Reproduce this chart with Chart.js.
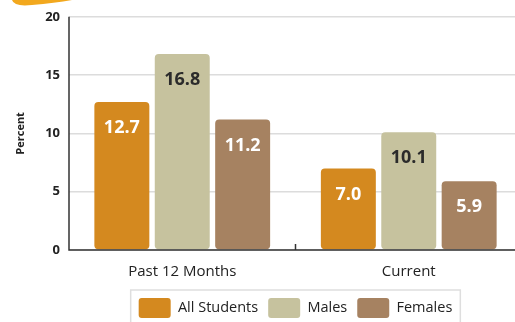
<!DOCTYPE html>
<html>
<head>
<meta charset="utf-8">
<script src="https://cdn.jsdelivr.net/npm/chart.js@4.4.1/dist/chart.umd.min.js"></script>
<style>
  html, body { margin: 0; padding: 0; background: #fff; overflow: hidden; }
  #wrap { width: 530px; height: 322px; position: relative; }
</style>
</head>
<body>
<div id="wrap"><canvas id="chart"></canvas></div>
<script>
// categories and series
const periods = ['Past 12 Months', 'Current'];
const seriesNames = ['All Students', 'Males', 'Females'];
const allStudents = [12.7, 7.0];
const males = [16.8, 10.1];
const females = [11.2, 5.9];
const yTicks = [0, 5, 10, 15, 20];

const COLORS = {
  all: '#D4891F',
  males: '#C6C29E',
  females: '#A68261',
  axis: '#333333',
  grid: '#dcdcdc',
};
const LABEL_COLORS = ['#ffffff', '#2b2b2b', '#ffffff'];
const FONT = '"Open Sans", Lato, sans-serif';

// value labels near the top of each bar
const barValues = {
  id: 'barValues',
  afterDatasetsDraw(chart) {
    const ctx = chart.ctx;
    ctx.save();
    ctx.font = 'bold 18px ' + FONT;
    ctx.textAlign = 'center';
    ctx.textBaseline = 'middle';
    chart.data.datasets.forEach((ds, i) => {
      const meta = chart.getDatasetMeta(i);
      meta.data.forEach((bar, j) => {
        ctx.fillStyle = LABEL_COLORS[i];
        ctx.fillText(ds.data[j].toFixed(1), bar.x, bar.y + 26);
      });
    });
    ctx.restore();
  }
};

// axis lines, separator tick, legend frame, corner swoosh
const frame = {
  id: 'frame',
  afterDraw(chart) {
    const ctx = chart.ctx;
    const a = chart.chartArea;
    const x = chart.scales.x;
    ctx.save();
    ctx.strokeStyle = COLORS.axis;
    ctx.lineWidth = 1.5;
    ctx.beginPath();
    ctx.moveTo(a.left, a.top);
    ctx.lineTo(a.left, a.bottom);
    ctx.lineTo(a.right, a.bottom);
    ctx.stroke();
    const mid = (x.getPixelForValue(0) + x.getPixelForValue(1)) / 2;
    ctx.beginPath();
    ctx.moveTo(mid, a.bottom);
    ctx.lineTo(mid, a.bottom - 6);
    ctx.stroke();

    const boxes = chart.legend.legendHitBoxes;
    if (boxes && boxes.length) {
      const l = Math.min(...boxes.map(b => b.left)) - 8;
      const r = Math.max(...boxes.map(b => b.left + b.width)) + 8;
      const t = Math.min(...boxes.map(b => b.top)) - 8;
      ctx.strokeStyle = '#dedede';
      ctx.lineWidth = 1.5;
      ctx.strokeRect(l, t, r - l, 60);
    }

    ctx.fillStyle = '#F2A81E';
    ctx.beginPath();
    ctx.moveTo(12, 0);
    ctx.quadraticCurveTo(14, 7, 32, 5);
    ctx.quadraticCurveTo(55, 3, 72, 0);
    ctx.closePath();
    ctx.fill();
    ctx.restore();
  }
};

new Chart(document.getElementById('chart'), {
  type: 'bar',
  data: {
    labels: periods,
    datasets: [
      { label: seriesNames[0], data: allStudents, backgroundColor: COLORS.all },
      { label: seriesNames[1], data: males, backgroundColor: COLORS.males },
      { label: seriesNames[2], data: females, backgroundColor: COLORS.females },
    ].map(d => Object.assign(d, {
      borderRadius: 4,
      borderSkipped: false,
      categoryPercentage: 0.80,
      barPercentage: 0.91,
    }))
  },
  options: {
    responsive: true,
    maintainAspectRatio: false,
    animation: false,
    layout: { padding: { top: 8, left: 0, right: 8, bottom: -6 } },
    plugins: {
      legend: {
        position: 'bottom',
        fullSize: false,
        labels: {
          boxWidth: 32,
          boxHeight: 20,
          useBorderRadius: true,
          borderRadius: 3,
          padding: 10,
          color: '#222',
          font: { family: FONT, size: 14.5 },
        }
      },
      tooltip: { enabled: false }
    },
    scales: {
      x: {
        grid: { display: false },
        border: { display: false },
        ticks: { color: '#222', font: { family: FONT, size: 15 }, padding: 5 },
        afterFit: s => { s.height = 38; }
      },
      y: {
        min: 0,
        max: 20,
        afterBuildTicks: s => { s.ticks = yTicks.map(v => ({ value: v })); },
        grid: { color: COLORS.grid, lineWidth: 1.5, drawTicks: false },
        border: { display: false },
        ticks: { color: '#222', font: { family: FONT, size: 13, weight: 'bold' }, padding: 9 },
        title: {
          display: true,
          text: 'Percent',
          color: '#222',
          font: { family: FONT, size: 11, weight: 'bold' },
          padding: { top: 14, bottom: 0 }
        },
        afterFit: s => { s.width = 69; }
      }
    }
  },
  plugins: [barValues, frame]
});
</script>
</body>
</html>
